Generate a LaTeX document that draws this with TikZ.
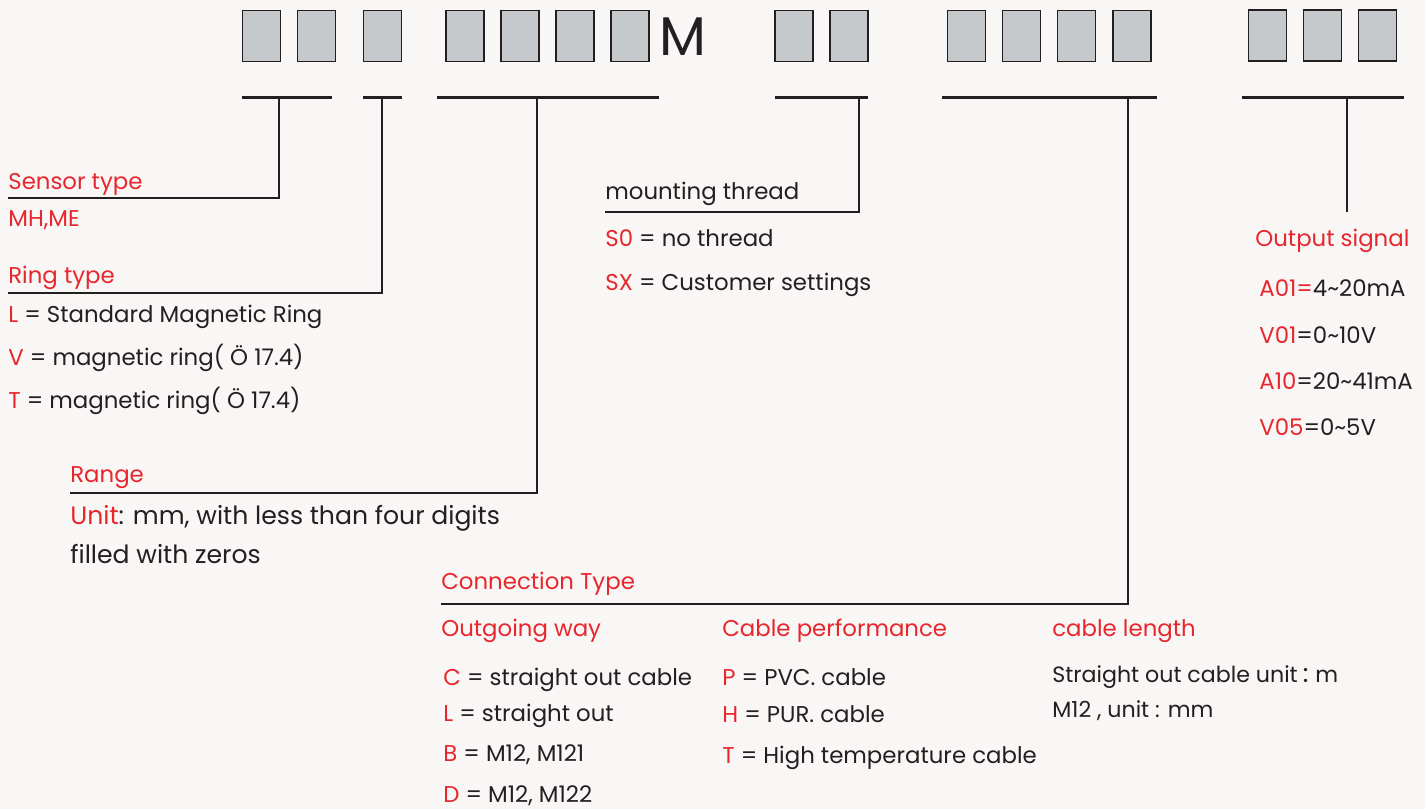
\documentclass[tikz,border=0pt]{standalone}
\usepackage{fontspec}
\setmainfont{Poppins}
\newfontfamily\cjk{Noto Sans CJK SC}
\usetikzlibrary{positioning}
\definecolor{paper}{HTML}{F8F7F5}
\definecolor{cellgray}{HTML}{C6C9CC}
\definecolor{ink}{HTML}{231F20}
\definecolor{codered}{HTML}{E8262D}
\tikzset{
    cell/.style={rectangle,draw=ink,fill=cellgray,line width=0.9pt,minimum width=7.6mm,minimum height=10.2mm,inner sep=0pt},
    bar/.style={-,line width=1.7pt,draw=ink},
    lead/.style={-,line width=1.4pt,draw=ink},
    txt/.style={anchor=base west,inner sep=0pt,font=\fontsize{13}{15}\selectfont,text=ink},
    big/.style={txt,font=\fontsize{14.3}{16}\selectfont},
    small/.style={txt,font=\fontsize{12.6}{15}\selectfont},
    head/.style={txt,text=codered}
}
\newcommand{\rd}[1]{\textcolor{codered}{#1}}

\begin{document}
\begin{tikzpicture}[x=0.02cm,y=-0.02cm,node distance=3.1mm]

    \fill[paper] (0,0) rectangle (1425,809);

    % code cells
    \node[cell] (cell 1) at (261.5,36) {};
    \node[cell] (cell 2) [right=of cell 1] {};
    \node[cell] (cell 3) at (382.5,36) {};
    \node[cell] (cell 4) at (465,36) {};
    \node[cell] (cell 5) [right=of cell 4] {};
    \node[cell] (cell 6) [right=of cell 5] {};
    \node[cell] (cell 7) [right=of cell 6] {};
    \node[anchor=base,inner sep=0pt,text=ink,font=\fontsize{31}{31}\selectfont] (unit m) at (683,55) {M};
    \node[cell] (cell 8) at (794,36) {};
    \node[cell] (cell 9) [right=of cell 8] {};
    \node[cell] (cell 10) at (966.5,36) {};
    \node[cell] (cell 11) [right=of cell 10] {};
    \node[cell] (cell 12) [right=of cell 11] {};
    \node[cell] (cell 13) [right=of cell 12] {};
    \node[cell] (cell 14) at (1267.5,35.5) {};
    \node[cell] (cell 15) [right=of cell 14] {};
    \node[cell] (cell 16) [right=of cell 15] {};

    % bars
    \draw[bar] (242,97) -- (332,97);
    \draw[bar] (363,97) -- (402,97);
    \draw[bar] (437,97) -- (659,97);
    \draw[bar] (775,97) -- (868,97);
    \draw[bar] (942,97) -- (1157,97);
    \draw[bar] (1242,97) -- (1404,97);

    \coordinate (tap sensor) at (279,97);
    \coordinate (tap ring) at (382,97);
    \coordinate (tap range) at (537,97);
    \coordinate (tap thread) at (859,97);
    \coordinate (tap cable) at (1128,97);
    \coordinate (tap output) at (1347,97);

    \coordinate (end sensor) at (8,198);
    \coordinate (end ring) at (8,293);
    \coordinate (end range) at (70,493);
    \coordinate (end thread) at (605,212);
    \coordinate (end cable) at (441,604);
    \coordinate (end output) at (1347,212);

    \draw[lead] (tap sensor) |- (end sensor);
    \draw[lead] (tap ring) |- (end ring);
    \draw[lead] (tap range) |- (end range);
    \draw[lead] (tap thread) |- (end thread);
    \draw[lead] (tap cable) |- (end cable);
    \draw[lead] (tap output) -- (end output);

    % sensor / ring
    \node[head] (sensor head) at (8,189) {Sensor type};
    \node[head] (sensor 1) at (8,226) {MH,ME};
    \node[head] (ring head) at (8,283) {Ring type};
    \node[txt] (ring 1) at (8,322) {\rd{L} = Standard Magnetic Ring};
    \node[txt] (ring 2) at (8,365) {\rd{V} = magnetic ring( Ö 17.4)};
    \node[txt] (ring 3) at (8,408) {\rd{T} = magnetic ring( Ö 17.4)};

    % range
    \node[head] (range head) at (70,482) {Range};
    \node[big] (range 1) at (70,524) {\rd{Unit}: mm, with less than four digits};
    \node[big] (range 2) at (70,563) {filled with zeros};

    % thread
    \node[txt] (thread head) at (605,199) {mounting thread};
    \node[txt] (thread 1) at (605,246) {\rd{S0} = no thread};
    \node[txt] (thread 2) at (605,290) {\rd{SX} = Customer settings};

    % output
    \node[head] (output head) at (1255,246) {Output signal};
    \node[txt] (output 1) at (1259,296) {\rd{A01=}4\textasciitilde20mA};
    \node[txt] (output 2) at (1259,343) {\rd{V01}=0\textasciitilde10V};
    \node[txt] (output 3) at (1259,389) {\rd{A10}=20\textasciitilde41mA};
    \node[txt] (output 4) at (1259,435) {\rd{V05}=0\textasciitilde5V};

    % connection
    \node[head] (conn head) at (441,589) {Connection Type};
    \node[head] (way head) at (441,636) {Outgoing way};
    \node[head] (perf head) at (722,636) {Cable performance};
    \node[head] (length head) at (1052,636) {cable length};

    \node[txt] (way 1) at (443,685) {\rd{C} = straight out cable};
    \node[txt] (way 2) at (443,721) {\rd{L} = straight out};
    \node[txt] (way 3) at (443,761) {\rd{B} = M12, M121};
    \node[txt] (way 4) at (443,802) {\rd{D} = M12, M122};

    \node[txt] (perf 1) at (722,685) {\rd{P} = PVC. cable};
    \node[txt] (perf 2) at (722,722) {\rd{H} = PUR. cable};
    \node[txt] (perf 3) at (722,763) {\rd{T} = High temperature cable};

    \node[small] (length 1) at (1052,682) {Straight out cable unit\kern0.1em\makebox[0.7em][l]{\cjk ：}m};
    \node[small] (length 2) at (1052,717) {M12 , unit : mm};

\end{tikzpicture}
\end{document}
